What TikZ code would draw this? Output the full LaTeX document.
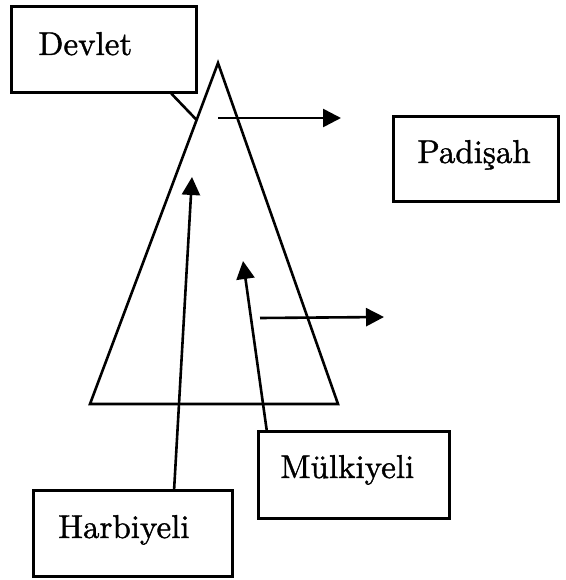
\documentclass[tikz,border=0pt]{standalone}
\usepackage{fontspec}
\setmainfont{lmroman10-regular.otf}[FakeBold=1.2]
\usetikzlibrary{arrows.meta,calc}
\begin{document}
\begin{tikzpicture}[x=1pt,y=-1pt,
  line width=2.6pt,
  box/.style={draw,line width=2.6pt,rectangle,inner sep=0pt,anchor=north west},
  lbl/.style={inner sep=0pt,anchor=base west,font=\fontsize{33}{38}\selectfont\bfseries},
  arr/.style={-{Triangle[length=18pt,width=18pt]},line width=2.6pt}]
\useasboundingbox (0,0) rectangle (565,580);
% boxes
\node[box,minimum width=185pt,minimum height=86pt] (devlet) at (10,5) {};
\node[box,minimum width=165pt,minimum height=85pt] (padisah) at (392,115) {};
\node[box,minimum width=191pt,minimum height=87pt] (mulk) at (257,430) {};
\node[box,minimum width=199pt,minimum height=86pt] (harb) at (32,489) {};
% labels
\node[lbl] (devletT) at (37,55) {Devlet};
\node[lbl] (padisahT) at (416,163) {Padişah};
\node[lbl] (mulkT) at (279,478) {Mülkiyeli};
\node[lbl] (harbT) at (57,538) {Harbiyeli};
% triangle
\coordinate (apex) at (218,63);
\coordinate (bl) at (90,404);
\coordinate (br) at (338,404);
\draw[line join=miter] (apex) -- (bl) -- (br) -- cycle;
% leader from Devlet
\coordinate (lead) at ($(apex)!0.167!(bl)$);
\draw ($(devlet.south west)!0.86!(devlet.south east)$) -- (lead);
% horizontal arrows
\coordinate (a1s) at (218,118);
\coordinate (a1e) at (341,118);
\draw[arr] (a1s) -- (a1e);
\coordinate (a2s) at (260,318);
\coordinate (a2e) at (384,317);
\draw[arr] (a2s) -- (a2e);
% arrows from Harbiyeli and Mülkiyeli
\coordinate (harbTip) at (192,177);
\draw[arr] ($(harb.north west)!0.705!(harb.north east)$) -- (harbTip);
\coordinate (mulkTip) at (243,261);
\draw[arr] ($(mulk.north west)!0.05!(mulk.north east)$) -- (mulkTip);
\end{tikzpicture}
\end{document}
